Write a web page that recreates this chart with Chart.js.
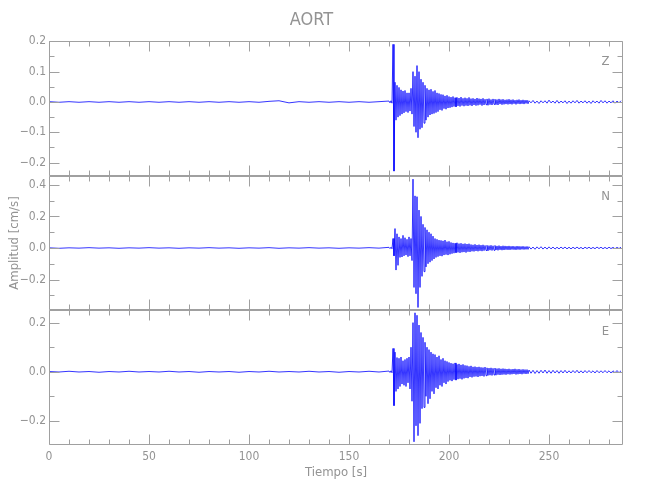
<!DOCTYPE html>
<html><head><meta charset="utf-8">
<script src="https://cdn.jsdelivr.net/npm/chart.js@4/dist/chart.umd.min.js"></script>
<style>html,body{margin:0;padding:0;background:#fff;}</style>
</head><body>
<canvas id="c" width="650" height="500"></canvas>
<script>
// ---------- labels ----------
const stationName = 'AORT';
const componentNames = ['Z', 'N', 'E'];
const xTitle = 'Tiempo [s]';
const yTitle = 'Amplitud [cm/s]';

// ---------- axes ----------
const timeRange = [0, 287];
const xMajorTicks = [0, 50, 100, 150, 200, 250];
const xMinorTicks = [10,20,30,40,60,70,80,90,110,120,130,140,160,170,180,190,210,220,230,240,260,270,280];

const zRange = [-0.243, 0.201];
const nRange = [-0.395, 0.458];
const eRange = [-0.298, 0.25];
const zTicks = [-0.2, -0.1, 0, 0.1, 0.2];
const zMinorTicks = [-0.15, -0.05, 0.05, 0.15];
const nTicks = [-0.2, 0, 0.2, 0.4];
const nMinorTicks = [-0.3, -0.1, 0.1, 0.3];
const eTicks = [-0.2, 0, 0.2];
const eMinorTicks = [-0.1, 0.1];

// ---------- sampling of the records (s) ----------
const preStart = 0, preStep = 5;         // quiet record 0–165 s
const activeStart = 170, activeStep = 1; // strong motion 170–239 s (peak up, then peak down within each second)
const tailStart = 240, tailStep = 1;     // coda 240–286 s

// ---------- Z component (cm/s) ----------
const zPre = [0.001,-0.001,0.001,-0.001,0.001,-0.001,0.001,-0.001,0.001,-0.001,0.001,-0.001,0.001,-0.001,0.001,-0.001,0.001,-0.001,0.001,-0.001,0.001,-0.001,0.002,0.004,-0.003,0.001,-0.001,0.001,-0.001,0.001,-0.001,0.001,-0.001,0.001];
const zUp = [0.003,0.004,0.190,0.065,0.055,0.048,0.040,0.036,0.038,0.030,
             0.030,0.045,0.100,0.085,0.120,0.100,0.075,0.065,0.055,0.045,
             0.040,0.042,0.035,0.038,0.030,0.028,0.025,0.024,0.020,0.022,
             0.018,0.016,0.018,0.014,0.015,0.013,0.016,0.012,0.014,0.012,
             0.015,0.011,0.012,0.010,0.013,0.011,0.010,0.012,0.009,0.010,
             0.011,0.008,0.010,0.009,0.008,0.010,0.008,0.009,0.007,0.008,
             0.009,0.007,0.008,0.006,0.007,0.008,0.006,0.007,0.006,0.006];
const zDown = [-0.003,-0.004,-0.228,-0.060,-0.050,-0.045,-0.040,-0.036,-0.032,-0.035,
               -0.030,-0.040,-0.081,-0.100,-0.118,-0.090,-0.085,-0.070,-0.060,-0.050,
               -0.043,-0.040,-0.038,-0.035,-0.032,-0.026,-0.028,-0.022,-0.024,-0.020,
               -0.019,-0.017,-0.015,-0.016,-0.013,-0.015,-0.012,-0.014,-0.012,-0.013,
               -0.011,-0.013,-0.010,-0.012,-0.011,-0.009,-0.012,-0.010,-0.009,-0.011,
               -0.009,-0.010,-0.008,-0.009,-0.010,-0.007,-0.009,-0.008,-0.007,-0.008,
               -0.007,-0.008,-0.006,-0.008,-0.006,-0.007,-0.006,-0.007,-0.005,-0.006];
const zTail = [0.004,-0.003,0.005,-0.004,0.003,-0.005,0.004,-0.003,0.004,-0.004,
               0.006,-0.003,0.003,-0.004,0.005,-0.004,0.003,-0.003,0.004,-0.005,
               0.003,-0.004,0.004,-0.003,0.005,-0.004,0.003,-0.003,0.004,-0.004,
               0.003,-0.005,0.004,-0.003,0.003,-0.004,0.005,-0.003,0.004,-0.004,
               0.003,-0.003,0.004,-0.004,0.003,-0.003,0.004];

// ---------- N component (cm/s) ----------
const nPre = [0.001,-0.002,0.001,-0.001,0.002,-0.001,0.001,-0.002,0.001,-0.001,0.002,-0.001,0.001,-0.002,0.001,-0.001,0.002,-0.001,0.001,-0.002,0.001,-0.001,0.002,-0.002,0.001,-0.001,0.002,-0.001,0.001,-0.002,0.001,-0.001,0.002,-0.001];
const nUp = [0.004,0.005,0.060,0.123,0.090,0.070,0.060,0.080,0.065,0.055,
             0.070,0.060,0.436,0.330,0.325,0.240,0.200,0.150,0.130,0.115,
             0.100,0.090,0.075,0.060,0.055,0.050,0.048,0.045,0.050,0.040,
             0.042,0.035,0.032,0.030,0.033,0.028,0.030,0.026,0.028,0.025,
             0.027,0.022,0.020,0.023,0.019,0.021,0.018,0.020,0.016,0.017,
             0.015,0.017,0.014,0.016,0.013,0.015,0.012,0.014,0.013,0.012,
             0.013,0.011,0.012,0.010,0.012,0.011,0.010,0.011,0.009,0.010];
const nDown = [-0.004,-0.005,-0.050,-0.140,-0.110,-0.060,-0.057,-0.050,-0.045,-0.055,
               -0.050,-0.080,-0.250,-0.290,-0.377,-0.250,-0.180,-0.150,-0.120,-0.100,
               -0.090,-0.080,-0.070,-0.060,-0.055,-0.050,-0.052,-0.045,-0.042,-0.045,
               -0.040,-0.036,-0.033,-0.030,-0.028,-0.031,-0.027,-0.026,-0.029,-0.024,
               -0.025,-0.021,-0.022,-0.019,-0.021,-0.018,-0.020,-0.017,-0.016,-0.018,
               -0.014,-0.016,-0.015,-0.013,-0.015,-0.012,-0.014,-0.013,-0.011,-0.012,
               -0.012,-0.010,-0.011,-0.012,-0.010,-0.011,-0.009,-0.010,-0.009,-0.009];
const nTail = [0.008,-0.007,0.006,-0.008,0.007,-0.006,0.008,-0.007,0.006,-0.007,
               0.007,-0.006,0.006,-0.007,0.005,-0.006,0.006,-0.005,0.006,-0.006,
               0.005,-0.006,0.005,-0.005,0.006,-0.005,0.004,-0.006,0.005,-0.004,
               0.005,-0.005,0.004,-0.005,0.006,-0.004,0.005,-0.005,0.004,-0.005,
               0.005,-0.004,0.004,-0.005,0.004,-0.004,0.005];

// ---------- E component (cm/s) ----------
const ePre = [0.001,-0.001,0.002,-0.001,0.001,-0.002,0.001,-0.001,0.002,-0.001,0.001,-0.001,0.002,-0.001,0.001,-0.002,0.001,-0.001,0.001,-0.002,0.001,-0.001,0.002,-0.001,0.001,-0.001,0.002,-0.001,0.001,-0.002,0.001,-0.001,0.002,-0.001];
const eUp = [0.003,0.004,0.095,0.080,0.058,0.055,0.060,0.045,0.050,0.055,
             0.060,0.100,0.200,0.240,0.230,0.190,0.160,0.140,0.120,0.100,
             0.090,0.080,0.073,0.070,0.060,0.065,0.050,0.055,0.045,0.042,
             0.038,0.035,0.033,0.036,0.030,0.032,0.028,0.030,0.026,0.025,
             0.022,0.024,0.020,0.021,0.019,0.020,0.018,0.017,0.019,0.016,
             0.015,0.016,0.014,0.015,0.013,0.014,0.012,0.013,0.012,0.011,
             0.012,0.010,0.011,0.012,0.010,0.011,0.009,0.010,0.009,0.009];
const eDown = [-0.003,-0.004,-0.138,-0.080,-0.070,-0.060,-0.050,-0.055,-0.060,-0.045,
               -0.070,-0.120,-0.285,-0.220,-0.260,-0.210,-0.150,-0.145,-0.100,-0.130,
               -0.110,-0.080,-0.090,-0.065,-0.070,-0.055,-0.060,-0.045,-0.050,-0.040,
               -0.035,-0.038,-0.032,-0.034,-0.030,-0.028,-0.031,-0.027,-0.025,-0.026,
               -0.021,-0.023,-0.020,-0.019,-0.021,-0.018,-0.017,-0.019,-0.016,-0.015,
               -0.014,-0.015,-0.013,-0.014,-0.012,-0.013,-0.012,-0.011,-0.012,-0.010,
               -0.011,-0.010,-0.009,-0.011,-0.010,-0.009,-0.010,-0.008,-0.009,-0.008];
const eTail = [0.007,-0.006,0.006,-0.007,0.005,-0.006,0.006,-0.005,0.007,-0.006,
               0.005,-0.006,0.006,-0.005,0.005,-0.006,0.005,-0.005,0.006,-0.005,
               0.004,-0.005,0.005,-0.004,0.006,-0.005,0.004,-0.005,0.005,-0.004,
               0.005,-0.004,0.004,-0.005,0.005,-0.004,0.004,-0.004,0.005,-0.004,
               0.004,-0.005,0.004,-0.004,0.005,-0.004,0.004];

// ---------- build traces ----------
function buildTrace(pre, up, down, tail) {
  const pts = [];
  pre.forEach((v, i) => pts.push({x: preStart + i * preStep, y: v}));
  up.forEach((v, i) => {
    const t = activeStart + i * activeStep;
    pts.push({x: t, y: v});
    pts.push({x: t + activeStep / 2, y: down[i]});
  });
  tail.forEach((v, i) => pts.push({x: tailStart + i * tailStep, y: v}));
  return pts;
}

const FONT = "'Liberation Sans Narrow','DejaVu Sans Condensed','Roboto Condensed',sans-serif";
const TEXT = '#939393';
const AXIS = '#a0a0a0';
const LINE = '#0000ff';

const fmt = v => (v < 0 ? '\u2212' : '') + Math.abs(v).toFixed(1);

const panels = [
  {axis: 'yZ', name: componentNames[0], major: zTicks, minor: zMinorTicks},
  {axis: 'yN', name: componentNames[1], major: nTicks, minor: nMinorTicks},
  {axis: 'yE', name: componentNames[2], major: eTicks, minor: eMinorTicks}
];

const framePlugin = {
  id: 'frame',
  afterDraw(chart) {
    const {ctx, chartArea} = chart;
    const left = Math.round(chartArea.left) + 0.5;
    const right = Math.round(chartArea.right) - 0.5;
    const xs = chart.scales.x;
    ctx.save();
    ctx.strokeStyle = AXIS;
    ctx.lineWidth = 1;
    panels.forEach(p => {
      const ys = chart.scales[p.axis];
      const top = Math.round(ys.top) + 0.5;
      const bottom = Math.round(ys.bottom) - 0.5;
      ctx.beginPath();
      ctx.rect(left, top, right - left, bottom - top);
      const xt = (vals, len) => vals.forEach(v => {
        const px = Math.round(xs.getPixelForValue(v)) + 0.5;
        ctx.moveTo(px, top); ctx.lineTo(px, top + len);
        ctx.moveTo(px, bottom); ctx.lineTo(px, bottom - len);
      });
      const yt = (vals, len) => vals.forEach(v => {
        const py = Math.round(ys.getPixelForValue(v)) + 0.5;
        ctx.moveTo(left, py); ctx.lineTo(left + len, py);
        ctx.moveTo(right, py); ctx.lineTo(right - len, py);
      });
      xt(xMajorTicks, 10); xt(xMinorTicks, 5);
      yt(p.major, 10); yt(p.minor, 5);
      ctx.stroke();
      ctx.fillStyle = TEXT;
      ctx.font = '13px ' + FONT;
      ctx.textAlign = 'center';
      ctx.textBaseline = 'middle';
      ctx.fillText(p.name, right - 17, ys.top + 21);
    });
    ctx.restore();
  }
};

function yScale(range, ticks, weight, showTitle) {
  return {
    type: 'linear', position: 'left', stack: 'panels', stackWeight: 1, weight: weight,
    min: range[0], max: range[1],
    grid: {display: false, drawTicks: false},
    border: {display: false},
    afterBuildTicks: s => { s.ticks = ticks.map(v => ({value: v})); },
    afterFit: s => { s.width = 49; },
    ticks: {color: TEXT, font: {family: FONT, size: 12}, padding: 3, callback: v => fmt(v), autoSkip: false},
    title: {display: showTitle, text: yTitle, color: TEXT, font: {family: FONT, size: 13}, padding: {top: 7, bottom: 0}}
  };
}

const ds = (data, axis) => ({data, yAxisID: axis, borderColor: LINE, borderWidth: 0.8, pointRadius: 0, tension: 0, fill: false});

new Chart(document.getElementById('c'), {
  type: 'line',
  data: {
    datasets: [
      ds(buildTrace(zPre, zUp, zDown, zTail), 'yZ'),
      ds(buildTrace(nPre, nUp, nDown, nTail), 'yN'),
      ds(buildTrace(ePre, eUp, eDown, eTail), 'yE')
    ]
  },
  options: {
    responsive: false, animation: false, devicePixelRatio: 1,
    layout: {padding: {left: 0, right: 27, top: 0, bottom: 0}},
    plugins: {
      legend: {display: false}, tooltip: {enabled: false},
      title: {display: true, text: stationName, color: TEXT, font: {family: FONT, size: 18, weight: 'normal'}, padding: {top: 10, bottom: 9.4}}
    },
    scales: {
      x: {
        type: 'linear', position: 'bottom', min: timeRange[0], max: timeRange[1],
        grid: {display: false, drawTicks: false}, border: {display: false},
        afterBuildTicks: s => { s.ticks = xMajorTicks.map(v => ({value: v})); },
        afterFit: s => { s.height = 55; },
        ticks: {color: TEXT, font: {family: FONT, size: 12}, padding: 5, maxRotation: 0, autoSkip: false, callback: v => String(v)},
        title: {display: true, text: xTitle, color: TEXT, font: {family: FONT, size: 13}, padding: {top: 0, bottom: 20}}
      },
      yZ: yScale(zRange, zTicks, 3, false),
      yN: yScale(nRange, nTicks, 2, true),
      yE: yScale(eRange, eTicks, 1, false)
    }
  },
  plugins: [framePlugin]
});
</script>
</body></html>
